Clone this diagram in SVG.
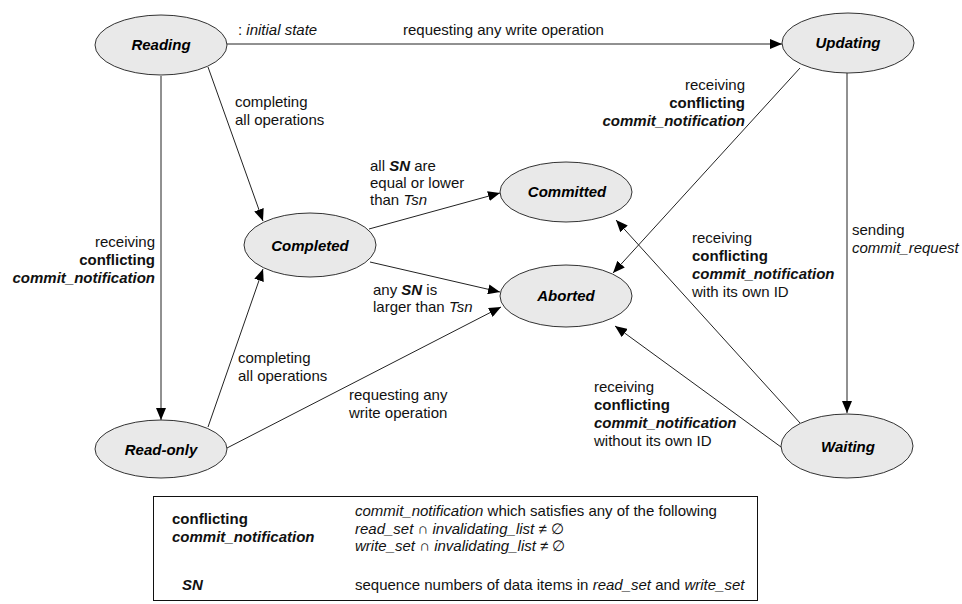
<svg xmlns="http://www.w3.org/2000/svg" width="962" height="604" viewBox="0 0 962 604">
<defs>
<marker id="arr" markerUnits="userSpaceOnUse" markerWidth="12" markerHeight="10" viewBox="0 0 12 10" refX="12" refY="5" orient="auto">
<path d="M0,0 L12,5 L0,10 z" fill="#000"/>
</marker>
<style>
.st ellipse{fill:#e9e9e9;stroke:#333;stroke-width:1}
.st text{font-family:"Liberation Sans",Arial,sans-serif;font-size:15px;font-weight:bold;font-style:italic;fill:#000;text-anchor:middle}
.conn path{fill:none;stroke:#222;stroke-width:1;marker-end:url(#arr)}
.lbl{font-family:"Liberation Sans",Arial,sans-serif;font-size:15px;fill:#111}
.r{text-anchor:end}
.i{font-style:italic}
.b{font-weight:bold}
.bi{font-weight:bold;font-style:italic}
</style>
</defs>
<rect width="962" height="604" fill="#fff"/>

<g id="connectors" class="conn">
<path d="M227,44 L782,44"/>
<path d="M161,76 L161,420"/>
<path d="M208,67 L263,221"/>
<path d="M208,427 L263,269"/>
<path d="M369,229 L500,193"/>
<path d="M370,262 L500,292"/>
<path d="M227,448 L501,307"/>
<path d="M800,68 L613,273"/>
<path d="M847,73 L847,413"/>
<path d="M800,423 L616,220"/>
<path d="M781,447 L615,326"/>
</g>

<g id="reading" class="st"><ellipse cx="161" cy="45" rx="66" ry="30"/><text x="161" y="50">Reading</text></g>
<g id="updating" class="st"><ellipse cx="848" cy="43" rx="66" ry="30"/><text x="848" y="48">Updating</text></g>
<g id="completed" class="st"><ellipse cx="310" cy="245" rx="66" ry="32"/><text x="310" y="251">Completed</text></g>
<g id="committed" class="st"><ellipse cx="566" cy="192" rx="66" ry="30"/><text x="567" y="197">Committed</text></g>
<g id="aborted" class="st"><ellipse cx="566" cy="296" rx="66" ry="31"/><text x="566" y="301">Aborted</text></g>
<g id="readonly" class="st"><ellipse cx="161" cy="449" rx="66" ry="29"/><text x="161" y="455">Read-only</text></g>
<g id="waiting" class="st"><ellipse cx="847" cy="446" rx="66" ry="32"/><text x="848" y="452">Waiting</text></g>

<g id="labels" class="lbl">
<text x="238" y="35">: <tspan class="i">initial state</tspan></text>
<text x="403" y="35">requesting any write operation</text>
<text x="235" y="107">completing</text>
<text x="235" y="125">all operations</text>
<text x="155" y="247" class="r">receiving</text>
<text x="155" y="265" class="r b">conflicting</text>
<text x="155" y="283" class="r bi">commit_notification</text>
<text x="238" y="363">completing</text>
<text x="238" y="381">all operations</text>
<text x="349" y="400">requesting any</text>
<text x="349" y="418">write operation</text>
<text x="370" y="171">all  <tspan class="bi">SN</tspan> are</text>
<text x="370" y="188">equal or lower</text>
<text x="370" y="205">than <tspan class="i">Tsn</tspan></text>
<text x="373" y="295">any <tspan class="bi">SN</tspan> is</text>
<text x="373" y="312">larger than <tspan class="i">Tsn</tspan></text>
<text x="745" y="90" class="r">receiving</text>
<text x="745" y="108" class="r b">conflicting</text>
<text x="745" y="126" class="r bi">commit_notification</text>
<text x="852" y="235">sending</text>
<text x="852" y="253" class="i">commit_request</text>
<text x="692" y="243">receiving</text>
<text x="692" y="261" class="b">conflicting</text>
<text x="692" y="279" class="bi">commit_notification</text>
<text x="692" y="297">with its own ID</text>
<text x="594" y="392">receiving</text>
<text x="594" y="410" class="b">conflicting</text>
<text x="594" y="428" class="bi">commit_notification</text>
<text x="594" y="446">without its own ID</text>
</g>

<g id="legend">
<rect x="153.5" y="496.5" width="604" height="104" fill="none" stroke="#111" stroke-width="1"/>
<g class="lbl">
<text x="172" y="524" class="b">conflicting</text>
<text x="172" y="542" class="bi">commit_notification</text>
<text x="355" y="516"><tspan class="i">commit_notification</tspan> which satisfies any of the following</text>
<text x="355" y="534"><tspan class="i">read_set</tspan> ∩ <tspan class="i">invalidating_list</tspan> ≠ ∅</text>
<text x="355" y="551"><tspan class="i">write_set</tspan> ∩ <tspan class="i">invalidating_list</tspan> ≠ ∅</text>
<text x="182" y="590" class="bi">SN</text>
<text x="355" y="590">sequence numbers of data items in <tspan class="i">read_set</tspan> and <tspan class="i">write_set</tspan></text>
</g>
</g>
</svg>
